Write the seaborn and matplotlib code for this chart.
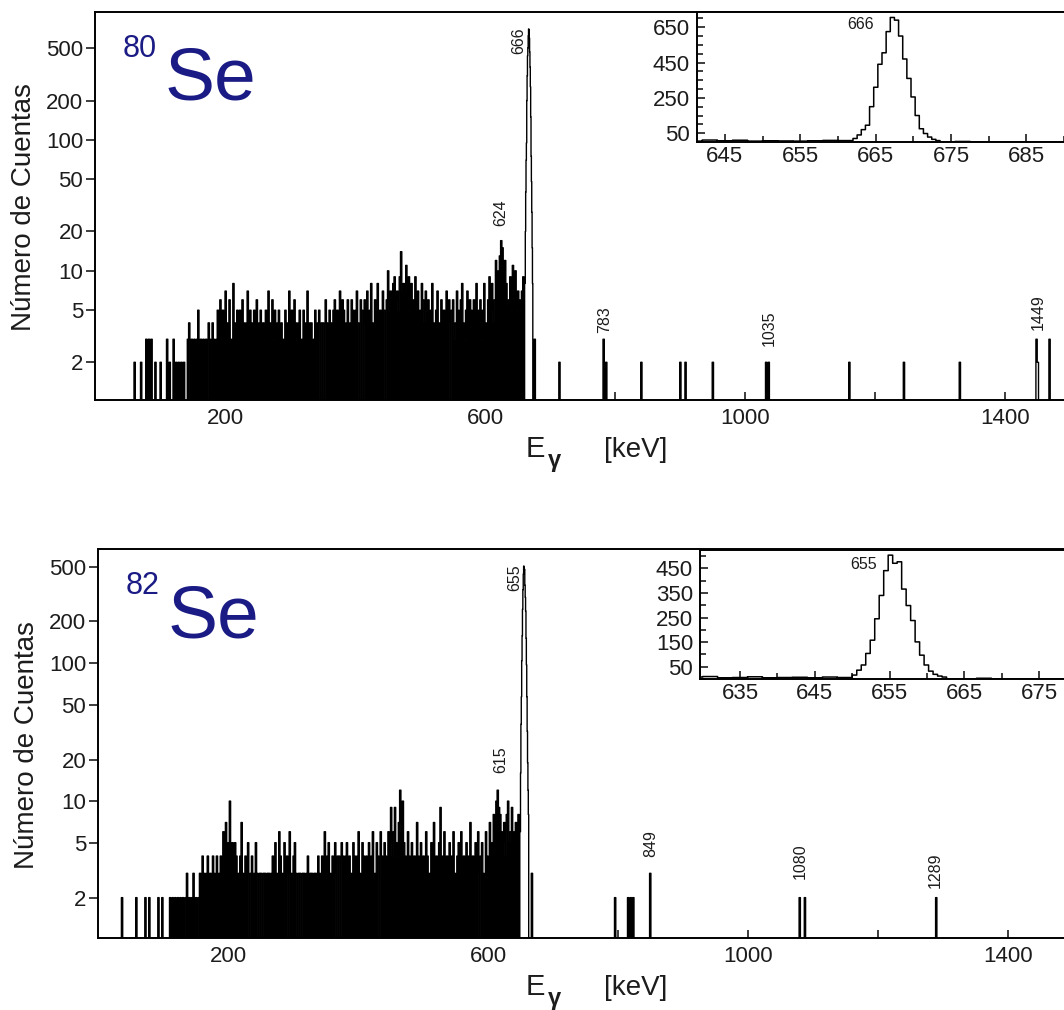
import numpy as np
import pandas as pd
import matplotlib
matplotlib.use("Agg")
import matplotlib.pyplot as plt
import seaborn as sns
from matplotlib.ticker import FixedLocator, FixedFormatter, NullLocator

# ---------------------------------------------------------------- data
# 80Se: continuum in 2 keV channels starting at 60 keV
se80_bg_start, se80_bg_width = 60.0, 2.0
se80_bg_counts = [
    2, 0, 0, 0, 0, 2, 0, 0, 0, 3,
    0, 3, 0, 3, 0, 0, 2, 0, 0, 0,
    2, 0, 0, 0, 0, 3, 0, 2, 0, 0,
    3, 0, 2, 0, 2, 0, 2, 0, 2, 0,
    0, 3, 4, 0, 3, 0, 3, 0, 3, 5,
    0, 3, 0, 3, 0, 3, 0, 4, 3, 0,
    4, 3, 0, 3, 5, 0, 6, 3, 5, 0,
    7, 4, 0, 6, 3, 0, 8, 4, 0, 5,
    3, 5, 0, 6, 4, 0, 4, 7, 0, 5,
    4, 0, 5, 3, 6, 0, 4, 5, 0, 4,
    3, 5, 0, 7, 4, 0, 6, 3, 5, 0,
    4, 5, 0, 4, 3, 0, 5, 4, 0, 7,
    3, 5, 0, 6, 4, 0, 4, 5, 0, 3,
    5, 0, 4, 7, 0, 4, 4, 0, 3, 5,
    0, 4, 5, 0, 4, 4, 0, 6, 4, 0,
    5, 4, 0, 5, 6, 0, 5, 4, 7, 0,
    6, 5, 0, 4, 6, 0, 4, 6, 5, 0,
    5, 7, 4, 0, 6, 5, 0, 6, 4, 7,
    0, 5, 8, 4, 0, 6, 5, 8, 0, 5,
    4, 7, 5, 0, 6, 10, 5, 7, 0, 8,
    9, 6, 7, 5, 9, 14, 7, 8, 6, 11,
    6, 9, 5, 8, 4, 6, 9, 5, 7, 0,
    5, 8, 6, 4, 7, 5, 6, 0, 5, 8,
    4, 3, 5, 7, 4, 0, 6, 4, 5, 3,
    7, 4, 6, 0, 5, 6, 3, 4, 7, 5,
    0, 6, 8, 4, 3, 5, 7, 0, 6, 5,
    4, 6, 4, 8, 0, 5, 6, 3, 5, 8,
    4, 0, 6, 9, 5, 8, 4, 6, 12, 8,
    10, 13, 17, 15, 10, 12, 8, 0, 6, 9,
    5, 11, 7, 10, 5, 7, 6, 5, 7, 9,
    8,
]
# 80Se: 666 keV photopeak in fine channels
se80_peak_start, se80_peak_width = 662.0, 0.55
se80_peak_counts = [20, 40, 70, 95, 200, 310, 440, 505, 625, 705, 690,
                    600, 470, 360, 255, 150, 75, 48, 28, 15, 8]
# 80Se: isolated counts above the photopeak
se80_line_energies = [677, 714, 783, 786, 840, 900, 908, 951, 1033, 1037,
                      1160, 1244, 1330, 1449, 1451, 1468]
se80_line_counts = [3, 2, 3, 2, 2, 2, 2, 2, 2, 2,
                    2, 2, 2, 3, 2, 3]
se80_peak_labels = [666, 624, 783, 1035, 1449]

# 82Se: continuum in 2 keV channels starting at 36 keV
se82_bg_start, se82_bg_width = 36.0, 2.0
se82_bg_counts = [
    2, 0, 0, 0, 0, 0, 0, 0, 0, 0,
    0, 2, 0, 0, 0, 0, 0, 0, 2, 0,
    0, 2, 0, 0, 0, 0, 0, 0, 2, 0,
    0, 2, 0, 0, 0, 0, 0, 2, 0, 2,
    0, 2, 0, 2, 0, 2, 0, 2, 0, 2,
    3, 0, 2, 0, 2, 3, 0, 2, 0, 2,
    3, 0, 4, 3, 0, 3, 4, 0, 3, 0,
    4, 3, 0, 4, 0, 3, 4, 0, 6, 0,
    7, 4, 5, 10, 0, 5, 3, 5, 4, 0,
    3, 4, 7, 3, 0, 4, 3, 5, 0, 3,
    4, 0, 3, 5, 3, 0, 3, 3, 0, 3,
    3, 0, 3, 3, 0, 3, 4, 0, 5, 3,
    0, 6, 4, 3, 0, 5, 3, 4, 0, 6,
    3, 0, 4, 5, 3, 0, 3, 3, 0, 3,
    3, 0, 3, 4, 0, 3, 3, 0, 3, 3,
    0, 4, 3, 0, 4, 3, 6, 0, 4, 5,
    3, 0, 4, 3, 5, 0, 4, 4, 0, 5,
    4, 0, 4, 5, 0, 4, 3, 0, 5, 4,
    0, 4, 6, 3, 0, 5, 4, 0, 4, 3,
    5, 0, 4, 6, 0, 3, 5, 4, 0, 6,
    4, 0, 5, 4, 3, 6, 5, 9, 4, 6,
    9, 5, 4, 7, 12, 6, 10, 5, 4, 3,
    6, 4, 0, 5, 3, 4, 0, 7, 4, 3,
    5, 0, 4, 3, 6, 4, 0, 3, 5, 4,
    7, 3, 4, 0, 5, 9, 3, 4, 6, 0,
    4, 3, 5, 0, 4, 6, 3, 0, 4, 5,
    3, 6, 0, 4, 3, 5, 4, 0, 7, 3,
    4, 0, 5, 3, 6, 0, 4, 5, 3, 0,
    6, 4, 3, 7, 0, 5, 8, 6, 10, 12,
    9, 8, 6, 5, 7, 4, 8, 10, 5, 6,
    9, 5, 6, 7, 5, 8, 6,
]
# 82Se: 655 keV photopeak in fine channels
se82_peak_start, se82_peak_width = 650.0, 0.6
se82_peak_counts = [16, 36, 57, 104, 158, 245, 340, 441, 504, 471, 477,
                    366, 299, 238, 151, 97, 57, 32, 19, 12, 8]
# 82Se: isolated counts above the photopeak
se82_line_energies = [667, 795, 815, 819, 823, 849, 1080, 1087, 1289]
se82_line_counts = [3, 2, 2, 2, 2, 3, 2, 2, 2]
se82_peak_labels = [655, 615, 849, 1080, 1289]

main_yticks = [2, 5, 10, 20, 50, 100, 200, 500]
main_xticks = [200, 400, 600, 800, 1000, 1200, 1400]
main_xticklabels = ["200", "", "600", "", "1000", "", "1400"]


def build_spectrum(bg_start, bg_width, bg_counts, pk_start, pk_width,
                   pk_counts, line_e, line_c, e_max=1500.0, grid=2.0):
    """Join continuum, photopeak and sparse channels into one histogram."""
    bg_edges = bg_start + bg_width * np.arange(len(bg_counts) + 1)
    pk_edges = pk_start + pk_width * np.arange(len(pk_counts) + 1)
    n_sp = int(np.ceil((e_max - pk_edges[-1]) / grid))
    sp_edges = pk_edges[-1] + grid * np.arange(n_sp + 1)
    sp_counts = np.zeros(n_sp)
    for e, c in zip(line_e, line_c):
        sp_counts[int((e - pk_edges[-1]) // grid)] = c
    edges = np.concatenate([[bg_start - bg_width], bg_edges[:-1],
                            pk_edges[:-1], sp_edges])
    counts = np.concatenate([[0.0], bg_counts, pk_counts, sp_counts])
    centers = 0.5 * (edges[:-1] + edges[1:])
    return pd.DataFrame({"energy": centers, "counts": counts}), edges.tolist()


spec80, edges80 = build_spectrum(se80_bg_start, se80_bg_width, se80_bg_counts,
                                 se80_peak_start, se80_peak_width, se80_peak_counts,
                                 se80_line_energies, se80_line_counts)
spec82, edges82 = build_spectrum(se82_bg_start, se82_bg_width, se82_bg_counts,
                                 se82_peak_start, se82_peak_width, se82_peak_counts,
                                 se82_line_energies, se82_line_counts)

# ---------------------------------------------------------------- style
sns.set_theme(style="ticks")
plt.rcParams["font.family"] = ["Liberation Sans", "DejaVu Sans"]
plt.rcParams["axes.linewidth"] = 1.4

W, H = 1064, 1010
fig = plt.figure(figsize=(W / 100, H / 100), dpi=100)
TXT = "#1c1c1c"
NAVY = "#1b1b85"


def frac_box(x0, y0, x1, y1):
    return [x0 / W, 1 - y1 / H, (x1 - x0) / W, (y1 - y0) / H]


def px(x, y):
    return x / W, 1 - y / H


panels = [
    dict(spec=spec80, edges=edges80, mass="80", ylim=(1.03, 950),
         cont_end=se80_peak_start,
         box=(95, 12, 1070, 400), inset_box=(697, 12, 1070, 142),
         inset_xlim=(641.3, 690.8), inset_ylim=(0, 736),
         inset_xmajor=[645, 655, 665, 675, 685],
         inset_xminor=[650, 660, 670, 680, 690],
         inset_ymajor=[50, 250, 450, 650],
         inset_yminor=list(range(0, 751, 50)),
         labels=se80_peak_labels,
         label_offsets={666: (-9, 2, "top"), 624: (0, 15, "bottom"),
                        783: (1, 6, "bottom"), 1035: (2, 16, "bottom"),
                        1449: (1, 9, "bottom")},
         inset_label_offset=(-32, -7),
         ylab_xy=(24, 207), xlab_base=457),
    dict(spec=spec82, edges=edges82, mass="82", ylim=(1.02, 670),
         cont_end=se82_peak_start,
         box=(98, 549, 1073, 938), inset_box=(700, 550, 1070, 679),
         inset_xlim=(629.65, 679.1), inset_ylim=(0, 525),
         inset_xmajor=[635, 645, 655, 665, 675],
         inset_xminor=[640, 650, 660, 670],
         inset_ymajor=[50, 150, 250, 350, 450],
         inset_yminor=list(range(0, 551, 50)),
         labels=se82_peak_labels,
         label_offsets={655: (-9, 2, "top"), 615: (3, 17, "bottom"),
                        849: (1, 16, "bottom"), 1080: (0, 19, "bottom"),
                        1289: (-1, 10, "bottom")},
         inset_label_offset=(-27, -9),
         ylab_xy=(27, 745), xlab_base=995),
]

for p in panels:
    ax = fig.add_axes(frac_box(*p["box"]))
    sp = p["spec"]
    # dense continuum below the photopeak, drawn as a solid step area
    cont = sp[sp["energy"] < p["cont_end"]]
    cont_edges = [e for e in p["edges"] if e <= p["cont_end"]]
    sns.histplot(data=cont, x="energy", weights="counts", bins=cont_edges,
                 element="step", fill=True, color="black", alpha=1,
                 linewidth=0, ax=ax)
    # full spectrum as a step outline
    sns.histplot(data=sp, x="energy", weights="counts", bins=p["edges"],
                 element="step", fill=False, color="black", linewidth=1.0, ax=ax)
    ax.set_yscale("log", nonpositive="clip")
    ax.set_xlim(0, 1500)
    ax.set_ylim(*p["ylim"])
    ax.set_xlabel("")
    ax.set_ylabel("")
    ax.yaxis.set_major_locator(FixedLocator(main_yticks))
    ax.yaxis.set_major_formatter(FixedFormatter([str(v) for v in main_yticks]))
    ax.yaxis.set_minor_locator(NullLocator())
    ax.set_xticks(main_xticks)
    ax.set_xticklabels(main_xticklabels)
    ax.tick_params(axis="y", direction="out", length=6.5, width=1.2,
                   labelsize=16, pad=2, colors=TXT)
    ax.tick_params(axis="x", direction="in", length=6, width=1.2,
                   labelsize=16, pad=6, colors=TXT)
    for s in ax.spines.values():
        s.set_color("black")
        s.set_linewidth(1.4)

    # peak energy labels, anchored at the tallest channel near each energy
    for e in p["labels"]:
        near = sp[(sp["energy"] > e - 3) & (sp["energy"] < e + 3)]
        top = near["counts"].max()
        dx, dy, va = p["label_offsets"][e]
        ax.annotate(str(e), xy=(e, top), xytext=(dx, dy),
                    textcoords="offset pixels", rotation=90, ha="center",
                    va=va, fontsize=11.5, color=TXT)

    # isotope tag
    x0, y0 = p["box"][0], p["box"][1]
    fig.text(*px(x0 + 70, y0 + 88), "Se", fontsize=54, color=NAVY,
             va="baseline", ha="left")
    fig.text(*px(x0 + 28, y0 + 45), p["mass"], fontsize=22, color=NAVY,
             va="baseline", ha="left")

    # axis titles
    fig.text(*px(*p["ylab_xy"]), "Número de Cuentas", rotation=90,
             fontsize=20, color=TXT, ha="center", va="center")
    fig.text(*px(535, p["xlab_base"]), "E", fontsize=21, color=TXT,
             ha="center", va="baseline")
    fig.text(*px(554, p["xlab_base"] + 10), "γ", fontsize=17, color=TXT,
             fontweight="bold", ha="center", va="baseline")
    fig.text(*px(636, p["xlab_base"]), "[keV]", fontsize=20, color=TXT,
             ha="center", va="baseline")

    # photopeak close-up on a linear scale
    ins = fig.add_axes(frac_box(*p["inset_box"]))
    ins.set_facecolor("white")
    ins.set_zorder(3)
    sns.histplot(data=sp, x="energy", weights="counts", bins=p["edges"],
                 element="step", fill=False, color="black", linewidth=1.1, ax=ins)
    ins.set_xlim(*p["inset_xlim"])
    ins.set_ylim(*p["inset_ylim"])
    ins.set_xlabel("")
    ins.set_ylabel("")
    ins.xaxis.set_major_locator(FixedLocator(p["inset_xmajor"]))
    ins.xaxis.set_major_formatter(FixedFormatter([str(v) for v in p["inset_xmajor"]]))
    ins.xaxis.set_minor_locator(FixedLocator(p["inset_xminor"]))
    ins.yaxis.set_major_locator(FixedLocator(p["inset_ymajor"]))
    ins.yaxis.set_major_formatter(FixedFormatter([str(v) for v in p["inset_ymajor"]]))
    ins.yaxis.set_minor_locator(FixedLocator(p["inset_yminor"]))
    ins.tick_params(axis="both", which="both", direction="in", width=1.2,
                    colors=TXT, labelsize=16)
    ins.tick_params(axis="both", which="major", length=6)
    ins.tick_params(axis="both", which="minor", length=4)
    ins.tick_params(axis="x", which="major", pad=3)
    ins.tick_params(axis="y", which="major", pad=5)
    for s in ins.spines.values():
        s.set_color("black")
        s.set_linewidth(1.4)
    i_pk = sp["counts"].idxmax()
    ix, iy = p["inset_label_offset"]
    ins.annotate(str(p["labels"][0]), xy=(sp.loc[i_pk, "energy"], sp.loc[i_pk, "counts"]),
                 xytext=(ix, iy), textcoords="offset pixels", ha="center",
                 va="center", fontsize=11.5, color=TXT)

fig.savefig("out.png", dpi=100, facecolor="white")
